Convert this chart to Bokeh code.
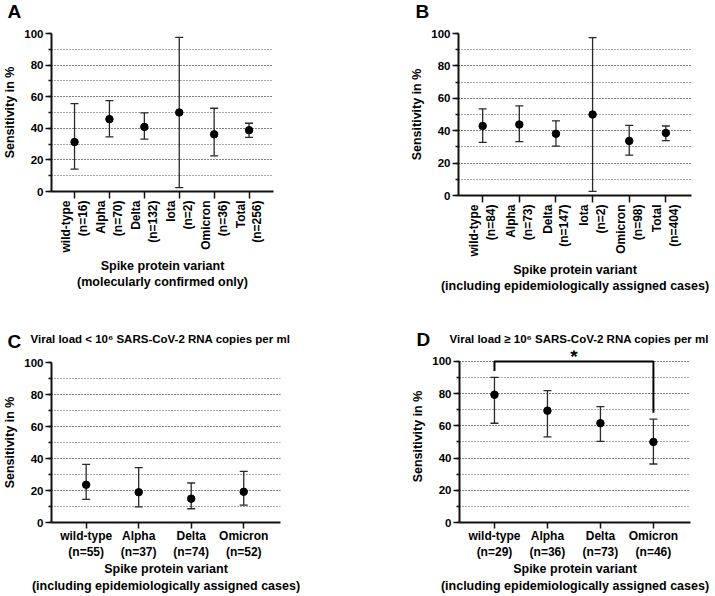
import math
from bokeh.plotting import figure
from bokeh.models import (ColumnDataSource, Whisker, TeeHead, Range1d,
                          SingleIntervalTicker, FixedTicker)
from bokeh.core.properties import value
from bokeh.layouts import row, column
from bokeh.embed import file_html
from bokeh.resources import INLINE

FONT = "Liberation Sans"

# ---------------- data ----------------
variants_all = ["wild-type", "Alpha", "Delta", "Iota", "Omicron", "Total"]
variants_vl = ["wild-type", "Alpha", "Delta", "Omicron"]

a_n = [16, 70, 132, 2, 36, 256]
a_sens = [31.3, 45.8, 40.9, 50.0, 36.2, 38.8]
a_lower = [14.2, 34.6, 33.1, 2.5, 22.6, 34.2]
a_upper = [55.6, 57.5, 49.7, 97.5, 52.7, 43.2]

b_n = [84, 73, 147, 2, 98, 404]
b_sens = [42.9, 43.8, 38.1, 50.0, 33.7, 38.6]
b_lower = [32.8, 33.2, 30.5, 2.5, 24.9, 33.9]
b_upper = [53.5, 55.3, 46.1, 97.5, 43.3, 42.9]

c_n = [55, 37, 74, 52]
c_sens = [23.6, 18.9, 14.9, 19.2]
c_lower = [14.5, 9.8, 8.6, 10.8]
c_upper = [36.3, 34.3, 24.7, 32.0]

d_n = [29, 36, 73, 46]
d_sens = [79.3, 69.4, 61.6, 50.0]
d_lower = [61.6, 53.2, 50.3, 36.3]
d_upper = [90.1, 81.9, 71.9, 64.1]
d_significant = ("wild-type", "Omicron")
d_sig_text = "*"

y_title = "Sensitivity in %"
x_title_a = "Spike protein variant\n(molecularly confirmed only)"
x_title_b = "Spike protein variant\n(including epidemiologically assigned cases)"
sub_c = "Viral load < 10\u2076 SARS-CoV-2 RNA copies per ml"
sub_d = "Viral load \u2265 10\u2076 SARS-CoV-2 RNA copies per ml"

INK = "#111111"
GRID = "#555555"


def make_panel(variants, n, sens, lower, upper, width, height, bl, br, bt, bb,
               rotate, xlabel, y_end=100):
    xs = list(range(len(variants)))
    p = figure(width=width, height=height, output_backend="svg", toolbar_location=None,
               x_range=Range1d(-0.66, len(variants) - 1 + 0.7), y_range=Range1d(0, y_end),
               min_border_left=bl, min_border_right=br, min_border_top=bt,
               min_border_bottom=bb, frame_align=False)
    p.outline_line_color = None
    p.background_fill_color = "white"
    p.border_fill_color = "white"

    # x axis
    xa = p.xaxis[0]
    xa.ticker = FixedTicker(ticks=xs)
    xa.major_label_overrides = {i: f"{v}\n(n={k})" for i, v, k in zip(xs, variants, n)}
    xa.axis_line_width = 2
    xa.axis_line_color = INK
    xa.major_tick_line_width = 1.5
    xa.major_tick_line_color = INK
    xa.major_tick_out = 7 if rotate else 6
    xa.major_tick_in = 0
    xa.minor_tick_line_color = None
    xa.major_label_text_font = FONT
    xa.major_label_text_font_style = "bold"
    xa.major_label_text_font_size = "12px"
    xa.major_label_text_color = "black"
    xa.major_label_standoff = 2 if rotate else 0
    if rotate:
        xa.major_label_orientation = math.pi / 2
    xa.axis_label = xlabel
    xa.axis_label_text_font = FONT
    xa.axis_label_text_font_style = "bold"
    xa.axis_label_text_font_size = "12.5px"
    xa.axis_label_text_color = "black"
    xa.axis_label_standoff = 3 if rotate else 0

    # y axis
    ya = p.yaxis[0]
    ya.ticker = SingleIntervalTicker(interval=20, num_minor_ticks=2)
    ya.bounds = (0, 100)
    ya.axis_line_width = 2
    ya.axis_line_color = INK
    ya.major_tick_line_width = 1.5
    ya.major_tick_line_color = INK
    ya.major_tick_out = 6
    ya.major_tick_in = 0
    ya.minor_tick_line_color = INK
    ya.minor_tick_line_width = 1.5
    ya.minor_tick_out = 3
    ya.minor_tick_in = 0
    ya.major_label_text_font = FONT
    ya.major_label_text_font_style = "bold"
    ya.major_label_text_font_size = "11.5px"
    ya.major_label_text_color = "black"
    ya.major_label_standoff = 2
    ya.axis_label = y_title
    ya.axis_label_text_font = FONT
    ya.axis_label_text_font_style = "bold"
    ya.axis_label_text_font_size = "12.5px"
    ya.axis_label_text_color = "black"
    ya.axis_label_standoff = 4

    p.xgrid.visible = False
    p.ygrid.ticker = SingleIntervalTicker(interval=20, num_minor_ticks=2)
    p.ygrid.grid_line_color = GRID
    p.ygrid.grid_line_dash = "1 2"
    p.ygrid.grid_line_width = 1
    p.ygrid.minor_grid_line_color = GRID
    p.ygrid.minor_grid_line_dash = "1 2"
    p.ygrid.minor_grid_line_width = 1

    src = ColumnDataSource(dict(x=xs, sens=sens, lower=lower, upper=upper))
    w = Whisker(source=src, base="x", lower="lower", upper="upper", dimension="height",
                line_color="#2a2a2a", line_width=1.3,
                upper_head=TeeHead(size=8, line_color="#2a2a2a", line_width=1.3),
                lower_head=TeeHead(size=8, line_color="#2a2a2a", line_width=1.3))
    p.add_layout(w)
    p.scatter("x", "sens", source=src, size=7.5, color="black")
    return p


def header(width, height, items):
    """items: (x, y, text, font_px) in header pixel coordinates."""
    h = figure(width=width, height=height, output_backend="svg", toolbar_location=None,
               x_range=Range1d(0, width), y_range=Range1d(height, 0),
               x_axis_type=None, y_axis_type=None,
               min_border_left=0, min_border_right=0, min_border_top=0,
               min_border_bottom=0, frame_align=False)
    h.title.visible = False
    h.outline_line_color = None
    h.background_fill_color = "white"
    h.border_fill_color = "white"
    for gx, gy, t, size in items:
        h.text(x=[gx], y=[gy], text=[t], text_font=value(FONT), text_font_style="bold",
               text_font_size=value(f"{size}px"), text_align="left",
               text_baseline="alphabetic", text_color="black")
    return h


hA = header(355, 22, [(7, 10.5, "A", 19)])
hB = header(360, 22, [(60, 10.5, "B", 19)])
hC = header(355, 52, [(7, 41.3, "C", 19), (30, 38.0, sub_c, 11.5)])
hD = header(360, 50, [(61, 39.0, "D", 19), (94, 38.4, sub_d, 11.5)])

pA = make_panel(variants_all, a_n, a_sens, a_lower, a_upper, 355, 278, 47, 82, 11, 109,
                True, x_title_a)
pB = make_panel(variants_all, b_n, b_sens, b_lower, b_upper, 360, 278, 103, 24, 11, 105,
                True, x_title_b)
pC = make_panel(variants_vl, c_n, c_sens, c_lower, c_upper, 355, 244, 48, 75, 10, 73,
                False, x_title_b)
pD = make_panel(variants_vl, d_n, d_sens, d_lower, d_upper, 360, 246, 104, 25, 0, 72,
                False, x_title_b, y_end=106.75)

# significance bracket and marker in D
i0 = variants_vl.index(d_significant[0])
i1 = variants_vl.index(d_significant[1])
top = 100
pD.line(x=[i0, i0, i1, i1], y=[d_upper[i0] + 4, top, top, d_upper[i1] + 4],
        line_color="black", line_width=2)
pD.text(x=[(i0 + i1) / 2], y=[top], text=[d_sig_text], text_font=value(FONT),
        text_font_style="bold", text_font_size=value("19px"), text_align="center",
        text_baseline="alphabetic", text_color="black", y_offset=-5)

layout = row(column(hA, pA, hC, pC), column(hB, pB, hD, pD))
open("out.html", "w").write(file_html(layout, INLINE))
